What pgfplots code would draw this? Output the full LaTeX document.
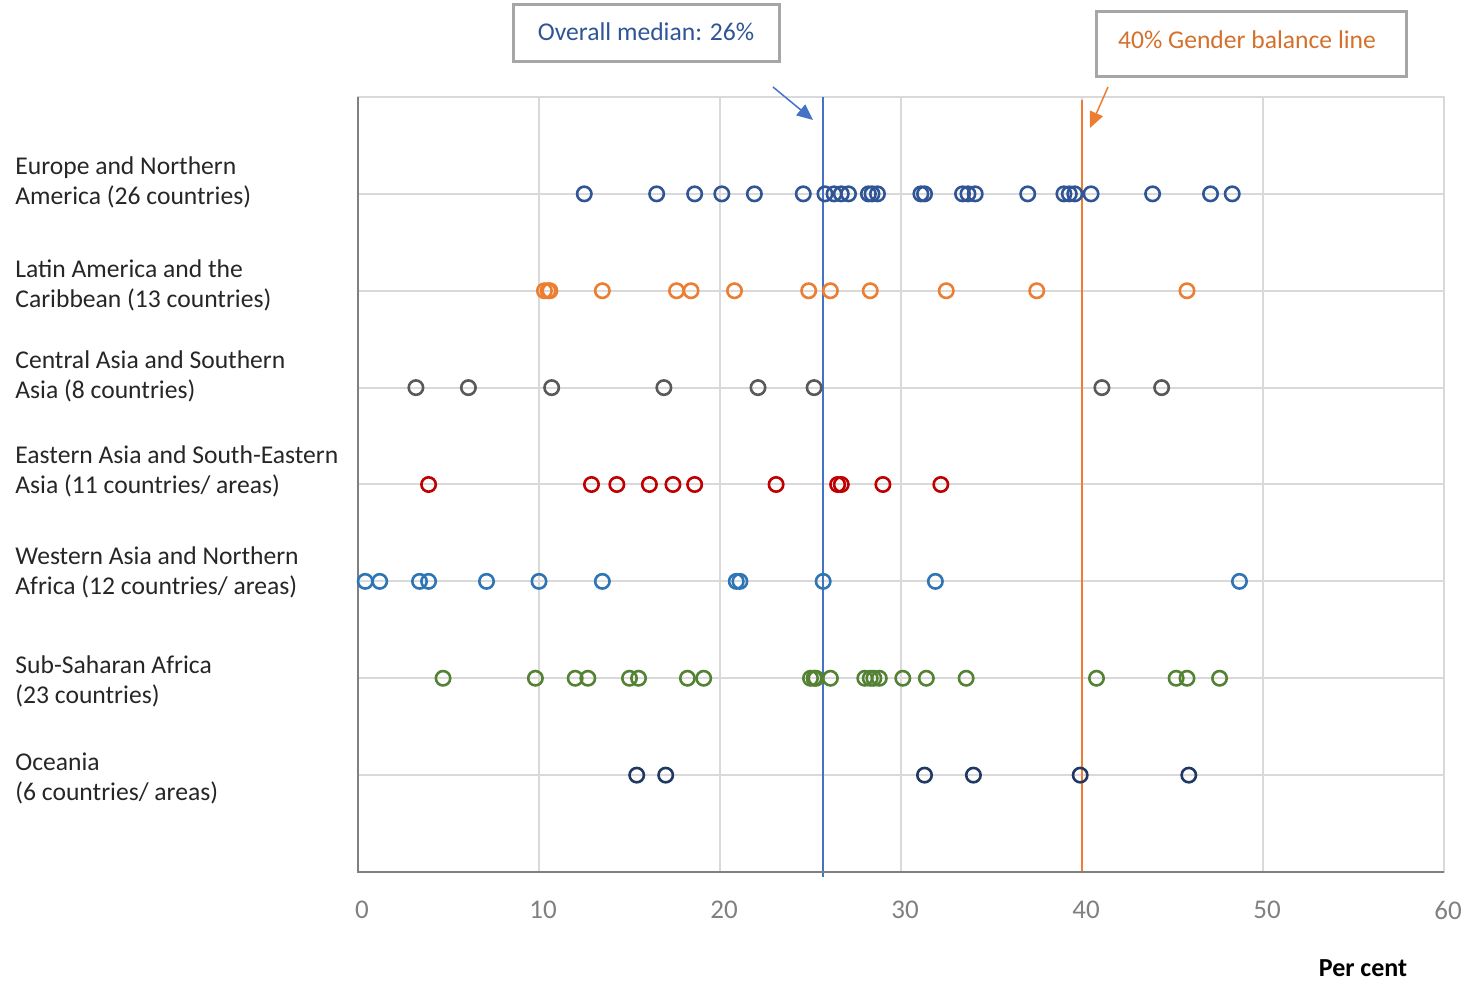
\documentclass[border=0pt]{standalone}
\usepackage{pgfplots}
\pgfplotsset{compat=1.18}
\usepackage{fontspec}
\setmainfont{Carlito}
\usetikzlibrary{arrows.meta}

\definecolor{eur}{HTML}{2F5597}
\definecolor{lat}{HTML}{ED7D31}
\definecolor{cas}{HTML}{595959}
\definecolor{eas}{HTML}{C00000}
\definecolor{was}{HTML}{2E75B6}
\definecolor{ssa}{HTML}{548235}
\definecolor{oce}{HTML}{203864}
\definecolor{gridc}{HTML}{D9D9D9}
\definecolor{medc}{HTML}{4472C4}
\definecolor{boxc}{HTML}{A6A6A6}
\definecolor{txt}{HTML}{262626}

\begin{document}
\begin{tikzpicture}[x=1pt,y=1pt]
\begin{axis}[
  scale only axis, width=543pt, height=387.5pt,
  xmin=0, xmax=60, ymin=0, ymax=8,
  xtick={0,10,...,60}, ytick={1,...,7}, yticklabels={},
  grid=major, major grid style={gridc, line width=1pt},
  major tick length=0pt,
  axis line style={gridc, line width=1pt},
  xticklabel style={font=\fontsize{13.5}{15}\selectfont, text=gray, yshift=-11pt, xshift=2pt},
  /pgf/number format/assume math mode=true,
  clip=false,
  dots/.style={only marks, mark=o, mark size=3.6pt, line width=1.3pt},
]
% reference lines
\addplot[medc, line width=0.75pt] coordinates {(25.7,-0.05) (25.7,8)};
\addplot[lat, line width=1pt] coordinates {(40,0) (40,7.97)};

% Europe and Northern America
\addplot[dots, eur] coordinates {
 (12.5,7)(16.5,7)(18.6,7)(20.1,7)(21.9,7)(24.6,7)(25.8,7)(26.3,7)(26.7,7)(27.1,7)
 (28.2,7)(28.4,7)(28.7,7)(31.1,7)(31.3,7)(33.4,7)(33.7,7)(34.1,7)(37.0,7)(39.0,7)
 (39.3,7)(39.6,7)(40.5,7)(43.9,7)(47.1,7)(48.3,7)};
% Latin America and the Caribbean
\addplot[dots, lat] coordinates {
 (10.3,6)(10.5,6)(10.6,6)(13.5,6)(17.6,6)(18.4,6)(20.8,6)(24.9,6)(26.1,6)(28.3,6)
 (32.5,6)(37.5,6)(45.8,6)};
% Central Asia and Southern Asia
\addplot[dots, cas] coordinates {
 (3.2,5)(6.1,5)(10.7,5)(16.9,5)(22.1,5)(25.2,5)(41.1,5)(44.4,5)};
% Eastern Asia and South-Eastern Asia
\addplot[dots, eas] coordinates {
 (3.9,4)(12.9,4)(14.3,4)(16.1,4)(17.4,4)(18.6,4)(23.1,4)(26.5,4)(26.7,4)(29.0,4)(32.2,4)};
% Western Asia and Northern Africa
\addplot[dots, was] coordinates {
 (0.4,3)(1.2,3)(3.4,3)(3.9,3)(7.1,3)(10.0,3)(13.5,3)(20.9,3)(21.1,3)(25.7,3)(31.9,3)(48.7,3)};
% Sub-Saharan Africa
\addplot[dots, ssa] coordinates {
 (4.7,2)(9.8,2)(12.0,2)(12.7,2)(15.0,2)(15.5,2)(18.2,2)(19.1,2)(25.0,2)(25.2,2)
 (25.3,2)(26.1,2)(28.0,2)(28.3,2)(28.5,2)(28.8,2)(30.1,2)(31.4,2)(33.6,2)(40.8,2)
 (45.2,2)(45.8,2)(47.6,2)};
% Oceania
\addplot[dots, oce] coordinates {
 (15.4,1)(17.0,1)(31.3,1)(34.0,1)(39.9,1)(45.9,1)};

\draw[gray, line width=1.2pt] (rel axis cs:0,1) -- (rel axis cs:0,0) -- (rel axis cs:1,0);
\end{axis}

% region labels
\begin{scope}[every node/.style={anchor=west, align=left, inner sep=0pt, text=txt,
    font=\fontsize{12.8}{15}\selectfont}]
\node at (-171.5,345)   {Europe and Northern\\America (26 countries)};
\node at (-171.5,293.5) {Latin America and the\\Caribbean (13 countries)};
\node at (-171.5,248)   {Central Asia and Southern\\Asia (8 countries)};
\node at (-171.5,200.5) {Eastern Asia and South-Eastern\\Asia (11 countries/ areas)};
\node at (-171.5,150)   {Western Asia and Northern\\Africa (12 countries/ areas)};
\node at (-171.5,95.5)  {Sub-Saharan Africa\\(23 countries)};
\node at (-171.5,47)    {Oceania\\(6 countries/ areas)};
\end{scope}

\node[font=\fontsize{13}{14}\selectfont\bfseries, text=black] at (502.5,-48) {Per cent};

% annotation boxes
\draw[boxc, line width=1.5pt] (77.5,405) rectangle (210.5,433.5);
\node[text=eur, font=\fontsize{12.8}{14}\selectfont] at (144,420) {Overall median: 26\%};
\draw[boxc, line width=1.5pt] (369,397.5) rectangle (524,430);
\node[text=lat!90!black, font=\fontsize{12.8}{14}\selectfont] at (444.5,416) {40\% Gender balance line};
\draw[medc, line width=0.75pt, -{Triangle[length=8pt,width=7pt]}] (207.5,392.5) -- (227.5,376);
\draw[lat, line width=0.75pt, -{Triangle[length=8pt,width=7pt]}] (375,392.5) -- (366,372);

\pgfresetboundingbox
\path (-179,-54) rectangle (560,436);
\end{tikzpicture}
\end{document}
